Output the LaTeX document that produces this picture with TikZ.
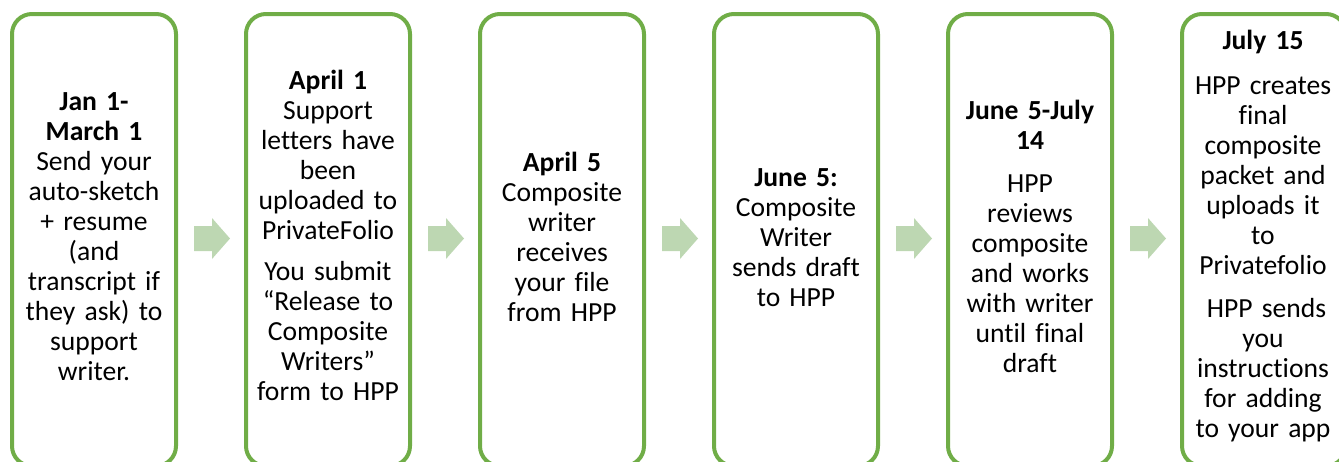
\documentclass[tikz,border=0pt]{standalone}
\usepackage{fontspec}
\setmainfont{Carlito}[RawFeature={-liga;-clig;-calt;-dlig}]
\usetikzlibrary{calc}
\definecolor{stepgreen}{HTML}{70AD47}
\definecolor{arrowgreen}{RGB}{189,215,178}
\begin{document}
\begin{tikzpicture}[x=1pt,y=-1pt,
  stage/.style={draw=stepgreen, line width=4pt, rounded corners=20pt,
    minimum width=164pt, minimum height=452pt, inner sep=0pt},
  stagetext/.style={align=center, text width=170pt, inner sep=0pt,
    font=\fontsize{27.6}{30}\selectfont},
  flow/.style={fill=arrowgreen, draw=none}]
\useasboundingbox (0,0) rectangle (1339,461);
\clip (0,0) rectangle (1339,461);

% timeline stages
\foreach \i/\cx in {1/94,2/328,3/562,4/796,5/1030,6/1264}
  \node[stage] (b\i) at (\cx,240) {};

% stage texts
\node[stagetext] (t1) at (94,237) {\textbf{Jan 1-}\\\textbf{March 1}\\Send your\\auto-sketch\\+ resume\\(and\\transcript if\\they ask) to\\support\\writer.};
\node[stagetext] (t2) at (328,235) {\textbf{April 1}\\Support\\letters have\\been\\uploaded to\\PrivateFolio\\[11pt]You submit\\“Release to\\Composite\\Writers”\\form to HPP};
\node[stagetext] (t3) at (562,237) {\textbf{April 5}\\Composite\\writer\\receives\\your file\\from HPP};
\node[stagetext] (t4) at (796,238) {\textbf{June 5:}\\Composite\\Writer\\sends draft\\to HPP};
\node[stagetext] (t5) at (1030,236) {\textbf{June 5-July}\\\textbf{14}\\[13pt]HPP\\reviews\\composite\\and works\\with writer\\until final\\draft};
\node[stagetext] (t6) at (1263,236.5) {\textbf{July 15}\\[15pt]HPP creates\\final\\composite\\packet and\\uploads it\\to\\Privatefolio\\[13pt]\hspace*{.25em}HPP sends\\you\\instructions\\for adding\\to your app};

% block arrows between consecutive stages
\foreach \a/\b in {1/2,2/3,3/4,4/5,5/6}{
  \coordinate (m\a) at ($(b\a.east)!0.5!(b\b.west)+(1,-1.5)$);
  \fill[flow] ($(m\a)+(-18,-12.5)$) -- ++(18,0) -- ++(0,-8) -- ($(m\a)+(18,0)$)
    -- ($(m\a)+(0,20.5)$) -- ++(0,-8) -- ++(-18,0) -- cycle;
}
\end{tikzpicture}
\end{document}
